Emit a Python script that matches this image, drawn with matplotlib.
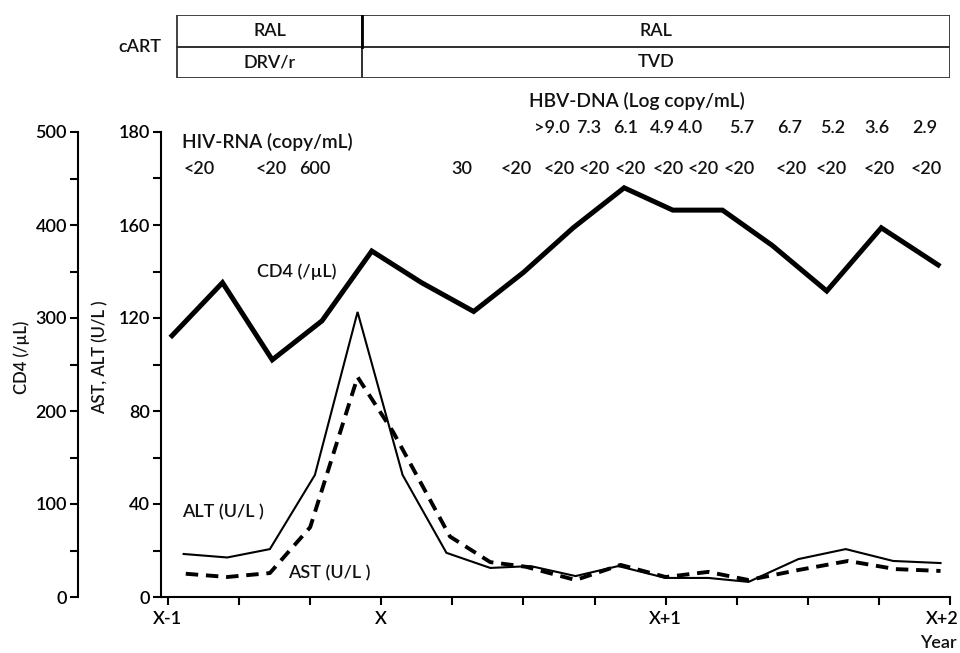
import matplotlib
matplotlib.use("Agg")
import matplotlib.pyplot as plt
from matplotlib.patches import Rectangle
from matplotlib import transforms

plt.rcParams['font.family'] = ['Lato', 'DejaVu Sans']
plt.rcParams['font.weight'] = 'semibold'
plt.rcParams['text.color'] = '#111111'

# time axis in months, X-1 = 0
month_ticks = [0, 3, 6, 9, 12, 15, 18, 21, 24, 27, 30, 33]
month_labels = ['X-1', '', '', 'X', '', '', '', 'X+1', '', '', '', 'X+2']

# CD4 (/uL)
cd4_t = [0.17, 2.3, 4.4, 6.5, 8.6, 10.7, 12.9, 15.0, 17.1, 19.25, 21.3, 23.4, 25.5, 27.8, 30.1, 32.5]
cd4 = [281, 338, 255, 297, 372, 338, 307, 349, 397, 440, 416, 416, 378, 329, 397, 357]

# ALT / AST (U/L)
alt_t = [0.66, 2.5, 4.3, 6.2, 8.0, 9.9, 11.75, 13.6, 15.3, 17.2, 19.0, 21.0, 22.8, 24.5, 26.6, 28.6, 30.6, 32.6]
alt = [18.5, 17, 20.6, 52.5, 122.6, 52.5, 19, 12.5, 13.3, 9, 13.3, 8.2, 8.2, 6.5, 16.3, 20.6, 15.5, 14.6]
ast_t = [0.75, 2.5, 4.3, 6.0, 8.0, 9.5, 11.9, 13.6, 15.1, 17.2, 19.1, 21.0, 22.8, 24.5, 26.6, 28.7, 30.7, 32.6]
ast = [10, 8.6, 10.3, 30, 94.6, 71, 26, 15, 13, 7.3, 13.8, 8.6, 10.8, 7.3, 11.6, 15.5, 12, 11.2]

# HIV-RNA (copy/mL)
hiv_t = [1.3, 4.35, 6.2, 12.4, 14.7, 16.5, 18.0, 19.5, 21.1, 22.6, 24.1, 26.3, 28.0, 30.0, 32.0]
hiv = ['<20', '<20', '600', '30', '<20', '<20', '<20', '<20', '<20', '<20', '<20', '<20', '<20', '<20', '<20']

# HBV-DNA (Log copy/mL)
hbv_t = [16.2, 17.75, 19.3, 20.85, 22.05, 24.2, 26.25, 28.05, 29.9, 31.95]
hbv = ['>9.0', '7.3', '6.1', '4.9', '4.0', '5.7', '6.7', '5.2', '3.6', '2.9']

# cART regimen: (start, end, top row, bottom row)
regimens = [(0.4, 8.2, 'RAL', 'DRV/r'), (8.2, 33.0, 'RAL', 'TVD')]

fs = 13
W, H = 960, 653
fig = plt.figure(figsize=(9.6, 6.53), dpi=100)
ax = fig.add_axes([161 / W, 1 - 597 / H, 789 / W, 465 / H])
ax2 = ax.twinx()

# AST / ALT on inner axis
ax.plot(alt_t, alt, color='black', lw=1.5, solid_joinstyle='miter')
ax.plot(ast_t, ast, color='black', lw=2.8, ls=(0, (3.2, 2.0)))
ax.set_ylim(0, 200)
ax.set_yticks([0, 40, 80, 120, 160, 200])
ax.set_yticklabels(['0', '40', '80', '120', '160', '180'])
ax.set_yticks([20, 60, 100, 140, 180], minor=True)
ax.set_xlim(-0.295, 33)
ax.set_xticks(month_ticks)
ax.set_xticklabels(month_labels)

# CD4 on outer axis
ax2.plot(cd4_t, cd4, color='black', lw=3.6, solid_joinstyle='miter')
ax2.set_ylim(0, 500)
ax2.set_yticks(range(0, 501, 100))
ax2.set_yticks(range(50, 500, 100), minor=True)
ax2.yaxis.tick_left()
ax2.spines['left'].set_position(('axes', -0.105))
ax2.spines['left'].set_visible(True)

for a in (ax, ax2):
    a.spines['top'].set_visible(False)
    a.spines['right'].set_visible(False)
    for s in a.spines.values():
        s.set_linewidth(1.5)
    a.tick_params(which='both', direction='out', length=6, width=1.5, labelsize=fs, pad=2)
ax2.spines['bottom'].set_visible(False)
ax2.tick_params(axis='x', which='both', length=0)
ax.tick_params(axis='x', pad=4)

# keep the last year label inside the figure
last = ax.get_xticklabels()[-1]
last.set_horizontalalignment('right')
last.set_transform(last.get_transform() + transforms.ScaledTranslation(6 / 72, 0, fig.dpi_scale_trans))

# curve labels
ax2.text(5.45, 350, 'CD4 (/µL)', fontsize=fs, ha='center', va='center')
ax.text(2.3, 36.6, 'ALT (U/L )', fontsize=fs, ha='center', va='center')
ax.text(6.8, 10.3, 'AST (U/L )', fontsize=fs, ha='center', va='center')

# lab values above the curves
tr = transforms.blended_transform_factory(ax.transData, ax.transAxes)
ax.text(4.2, 0.978, 'HIV-RNA (copy/mL)', transform=tr, fontsize=13.8, ha='center', va='center')
for t, s in zip(hiv_t, hiv):
    ax.text(t, 0.920, s, transform=tr, fontsize=fs, ha='center', va='center', clip_on=False)
ax.text(19.8, 1.067, 'HBV-DNA (Log copy/mL)', transform=tr, fontsize=13.8, ha='center', va='center')
for t, s in zip(hbv_t, hbv):
    ax.text(t, 1.009, s, transform=tr, fontsize=fs, ha='center', va='center', clip_on=False)

# axis titles
fig.text(22 / W, 1 - 357 / H, 'CD4 (/µL)', rotation=90, ha='center', va='center', fontsize=12)
fig.text(100 / W, 1 - 357 / H, 'AST, ALT (U/L )', rotation=90, ha='center', va='center', fontsize=12)
fig.text(957 / W, 1 - 643 / H, 'Year', ha='right', va='center', fontsize=fs)

# cART table
tab = fig.add_axes([161 / W, 1 - 78 / H, 789 / W, 63 / H])
tab.set_xlim(ax.get_xlim())
tab.set_ylim(0, 2)
tab.axis('off')
for x0, x1, top, bot in regimens:
    for y0, lab in ((1, top), (0, bot)):
        tab.add_patch(Rectangle((x0, y0), x1 - x0, 1, fill=False, ec='#333333', lw=1.3))
        tab.text((x0 + x1) / 2, y0 + 0.5, lab, ha='center', va='center', fontsize=fs)
tab.plot([regimens[1][0]] * 2, [1, 2], color='black', lw=2.0)
tab.text(-1.2, 1.0, 'cART', ha='center', va='center', fontsize=fs)

fig.savefig('out.png', dpi=100)
